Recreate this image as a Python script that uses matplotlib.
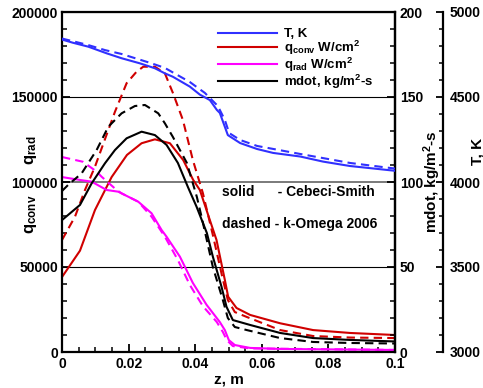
import matplotlib
matplotlib.use("Agg")
import matplotlib.pyplot as plt
from matplotlib.ticker import MultipleLocator, FuncFormatter
from matplotlib.lines import Line2D

plt.rcParams['font.family'] = ['Liberation Sans', 'DejaVu Sans']
plt.rcParams['font.weight'] = 'bold'
plt.rcParams['mathtext.fontset'] = 'custom'
for k in ['rm', 'it', 'bf', 'sf']:
    plt.rcParams['mathtext.' + k] = 'Liberation Sans:bold'

# ---------------- data ----------------
# T, K  (Cebeci-Smith solid / k-Omega dashed)
z_T_solid = [0, 0.0033, 0.0079, 0.0134, 0.0179, 0.0234, 0.0279, 0.0309, 0.0333,
             0.0384, 0.0414, 0.0444, 0.0465, 0.0474, 0.0498, 0.0505, 0.0535,
             0.0586, 0.0634, 0.0715, 0.0784, 0.0865, 0.1]
T_solid = [4838, 4819, 4796, 4757, 4728, 4698, 4669, 4639, 4619,
           4561, 4514, 4482, 4424, 4406, 4276, 4267, 4229,
           4194, 4171, 4150, 4120, 4094, 4066]
z_T_dash = [0, 0.0078, 0.0129, 0.0179, 0.0269, 0.0309, 0.0384, 0.0429, 0.0468,
            0.0489, 0.0502, 0.0535, 0.0586, 0.0715, 0.0865, 0.1]
T_dash = [4844, 4806, 4776, 4753, 4698, 4671, 4588, 4524, 4447,
          4365, 4288, 4247, 4212, 4165, 4112, 4079]

# q_conv, W/cm^2
z_qc_solid = [0, 0.0054, 0.0099, 0.0149, 0.0195, 0.0239, 0.0279, 0.0324, 0.0364,
              0.0394, 0.0414, 0.0444, 0.0464, 0.0489, 0.0499, 0.0524, 0.0565,
              0.0655, 0.0754, 0.0865, 0.1]
qc_solid = [44100, 59600, 83500, 102900, 115900, 122800, 125100, 122800, 112900,
            101200, 95300, 77600, 65900, 42400, 32500, 25900, 21800,
            16900, 12900, 11200, 10000]
z_qc_dash = [0, 0.0039, 0.0069, 0.0099, 0.0159, 0.0194, 0.0224, 0.0244, 0.0279,
             0.0309, 0.0333, 0.0363, 0.0393, 0.0423, 0.0453, 0.0480, 0.0498,
             0.0519, 0.0555, 0.0655, 0.0754, 0.0865, 0.1]
qc_dash = [65900, 79600, 95300, 109000, 141300, 158100, 164900, 167800, 167800,
           163900, 152400, 136500, 112900, 93500, 68800, 45300, 30600,
           23500, 20600, 12900, 9400, 8500, 8200]

# q_rad, W/cm^2
z_qr_solid = [0, 0.0054, 0.0089, 0.0134, 0.0169, 0.0229, 0.0269, 0.0299, 0.0314,
              0.0354, 0.0393, 0.0434, 0.0474, 0.0489, 0.0501, 0.0519, 0.0565,
              0.0655, 0.1]
qr_solid = [102900, 101200, 100200, 95300, 94300, 88400, 81600, 71800, 67800,
            56100, 40600, 27800, 17600, 12900, 7000, 4100, 2400,
            1800, 1200]
z_qr_dash = [0, 0.0063, 0.0104, 0.0119, 0.0164, 0.0179, 0.0229, 0.0269, 0.0309,
             0.0348, 0.0384, 0.0423, 0.0465, 0.0483, 0.0495, 0.0513, 0.0565, 0.1]
qr_dash = [114700, 111900, 106100, 103100, 95300, 93300, 88400, 79600, 67800,
           54100, 39400, 27000, 17600, 11800, 7000, 3500, 2100, 1200]

# mdot, kg/m^2-s
z_m_solid = [0, 0.0054, 0.0089, 0.0129, 0.0159, 0.0194, 0.0239, 0.0279, 0.0314,
             0.0348, 0.0378, 0.0404, 0.0435, 0.0453, 0.0479, 0.0494, 0.0513,
             0.0565, 0.0655, 0.0754, 0.0865, 0.1]
m_solid = [77.6, 86.5, 99.2, 111.0, 118.8, 125.7, 129.6, 127.6, 121.8,
           111.2, 97.1, 85.5, 70.0, 56.1, 38.4, 26.6, 18.8,
           15.9, 11.2, 8.2, 7.1, 6.2]
z_m_dash = [0, 0.0018, 0.0059, 0.0104, 0.0139, 0.0179, 0.0219, 0.0249, 0.0289,
            0.0309, 0.0333, 0.0375, 0.0405, 0.0420, 0.0453, 0.0483, 0.0498,
            0.0519, 0.0555, 0.0655, 0.0754, 0.0865, 0.1]
m_dash = [94.7, 98.2, 105.1, 118.8, 132.5, 140.4, 144.7, 145.3, 140.4,
          134.5, 126.5, 111.2, 91.2, 78.8, 50.0, 30.6, 20.0,
          14.7, 12.9, 8.2, 5.9, 5.3, 5.0]

q_ticks = [0, 50000, 100000, 150000, 200000]
mdot_ticks = [0, 50, 100, 150, 200]
T_ticks = [3000, 3500, 4000, 4500, 5000]
z_ticks = [0, 0.02, 0.04, 0.06, 0.08, 0.1]
legend_labels = ['T, K', r'q$_{conv}$ W/cm$^2$', r'q$_{rad}$ W/cm$^2$',
                 r'mdot, kg/m$^2$-s']

# ---------------- figure ----------------
W, H = 483, 388
fig = plt.figure(figsize=(W / 100, H / 100), dpi=100)
ax = fig.add_axes([62 / W, 36 / H, 333 / W, 340 / H])
ax2 = ax.twinx()
ax3 = ax.twinx()
ax3.spines['right'].set_position(('axes', (443 - 62) / 333))
for s in ['top', 'left', 'bottom']:
    ax3.spines[s].set_visible(False)
    ax2.spines[s].set_visible(False)

blue = '#3030ff'
red = '#d00000'
mag = '#ff00ff'
lw = 1.5
dash = (0, (4, 2.5))

ax.plot(z_qc_solid, qc_solid, color=red, lw=lw)
ax.plot(z_qc_dash, qc_dash, color=red, lw=lw, ls=dash)
ax.plot(z_qr_solid, qr_solid, color=mag, lw=lw)
ax.plot(z_qr_dash, qr_dash, color=mag, lw=lw, ls=dash)
ax2.plot(z_m_solid, m_solid, color='k', lw=lw)
ax2.plot(z_m_dash, m_dash, color='k', lw=lw, ls=dash)
ax3.plot(z_T_solid, T_solid, color=blue, lw=lw)
ax3.plot(z_T_dash, T_dash, color=blue, lw=lw, ls=dash)

ax.set_xlim(0, 0.1)
ax.set_ylim(0, 200000)
ax2.set_ylim(0, 200)
ax3.set_ylim(3000, 5000)

ax.set_xticks(z_ticks)
ax.xaxis.set_minor_locator(MultipleLocator(0.005))
ax.xaxis.set_major_formatter(FuncFormatter(lambda v, p: '%g' % round(v, 3)))
ax.set_yticks(q_ticks)
ax.yaxis.set_minor_locator(MultipleLocator(10000))
ax.yaxis.set_major_formatter(FuncFormatter(lambda v, p: '%d' % v))
ax2.set_yticks(mdot_ticks)
ax2.yaxis.set_minor_locator(MultipleLocator(10))
ax3.set_yticks(T_ticks)
ax3.yaxis.set_minor_locator(MultipleLocator(100))

fs = 10
ax.tick_params(axis='both', which='major', direction='in', length=6, width=1.3,
               labelsize=fs, pad=3.5, top=False, right=False)
ax.tick_params(axis='both', which='minor', direction='in', length=3.5, width=1.1,
               top=False, right=False)
ax.tick_params(axis='y', pad=3)
ax2.tick_params(axis='y', which='major', direction='in', length=6, width=1.3,
                labelsize=fs, pad=3.5)
ax2.tick_params(axis='y', which='minor', direction='in', length=3.5, width=1.1)
ax3.tick_params(axis='y', which='major', direction='in', length=5, width=1.3,
                labelsize=fs, pad=4.5)
ax3.tick_params(axis='y', which='minor', direction='in', length=3, width=1.1)

for a in (ax, ax2, ax3):
    for s in a.spines.values():
        s.set_linewidth(1.6)

ax.grid(axis='y', which='major', color='k', lw=0.8)
ax.get_ygridlines()[2].set_color('#707070')
ax.get_ygridlines()[2].set_linewidth(1.3)

ax.set_xlabel('z, m', fontsize=11, fontweight='bold', labelpad=1)
ax.text(-0.093, (352 - 214) / 340, r'q$_{conv}$', rotation=90, transform=ax.transAxes,
        ha='center', va='center', fontsize=12)
ax.text(-0.093, (352 - 150) / 340, r'q$_{rad}$', rotation=90, transform=ax.transAxes,
        ha='center', va='center', fontsize=12)
ax.text((432 - 62) / 333, (352 - 182) / 340, r'mdot, kg/m$^2$-s', rotation=90,
        transform=ax.transAxes, ha='center', va='center', fontsize=11)
ax.text((477 - 62) / 333, (352 - 151) / 340, 'T, K', rotation=90,
        transform=ax.transAxes, ha='center', va='center', fontsize=11)

# legend proxies using the solid series styles
handles = [Line2D([], [], color=c, lw=lw) for c in (blue, red, mag, 'k')]
ax3.legend(handles, legend_labels,
           loc='upper left', bbox_to_anchor=((218 - 62) / 333, (352 - 28) / 340),
           frameon=False, fontsize=9.5, handlelength=4.5, handletextpad=0.5,
           labelspacing=-0.1, borderpad=0, borderaxespad=0)

ax3.text((222 - 62) / 333, (352 - 192) / 340, 'solid      - Cebeci-Smith',
         transform=ax.transAxes, fontsize=10, ha='left', va='center')
ax3.text((222 - 62) / 333, (352 - 224) / 340, 'dashed - k-Omega 2006',
         transform=ax.transAxes, fontsize=10, ha='left', va='center')

fig.savefig('out.png', dpi=100)
